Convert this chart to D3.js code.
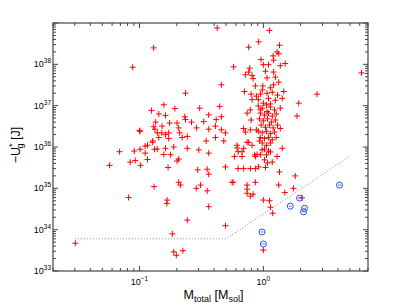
<!DOCTYPE html>
<html>
<head>
<meta charset="utf-8">
<script src="https://cdn.jsdelivr.net/npm/d3@7"></script>
<style>
body { margin: 0; background: #fff; }
text { font-family: "Liberation Sans", Arial, sans-serif; }
</style>
</head>
<body>
<div id="chart-area"></div>
<script>
// red crosses: total mass [M_sol] and -U*_g [J]
const crossMass = [
 0.424, 0.130, 0.088, 0.575, 0.458, 0.235, 0.157, 0.125, 0.193, 0.306,
 0.444, 0.143, 0.162, 0.232, 0.362, 0.135, 0.175, 0.201, 0.235, 0.263,
 0.330, 0.416, 0.458, 0.152, 0.207, 0.288, 0.410, 0.100, 0.133, 0.172,
 0.362, 0.458, 0.139, 0.162, 0.211, 0.221, 0.243, 0.494, 0.128, 0.172,
 0.143, 0.345, 0.410, 0.479, 0.139, 0.162, 0.189, 0.243, 0.157, 0.178,
 0.301, 0.362, 0.207, 0.201, 0.170, 0.295, 0.352, 0.362, 0.494, 0.207,
 0.214, 0.287, 0.311, 0.352, 0.559, 0.167, 0.166, 0.362, 0.243, 0.494,
 0.184, 0.189, 0.198, 0.224, 0.625, 0.673, 0.614, 0.694, 0.739, 0.811,
 0.625, 0.694, 0.785, 0.862, 0.739, 0.739, 0.785, 0.826, 0.862, 0.851,
 0.889, 0.976, 0.0573, 0.069, 0.0841, 0.0906, 0.0923, 0.102, 0.101, 0.101,
 0.111, 0.116, 0.111, 0.116, 0.127, 0.132, 0.151, 0.130, 0.0815, 0.131,
 0.0303, 0.785, 0.739, 1.37, 1.87, 0.796, 0.694, 0.716, 0.785, 0.878,
 1.37, 0.614, 0.584, 0.673, 0.761, 0.862, 0.946, 1.29, 1.42, 0.916,
 1.04, 1.35, 1.81, 0.570, 1.33, 1.75, 1.49, 1.00, 1.12, 1.14,
 1.19, 2.05, 1.00, 0.739, 1.12, 0.916, 0.761, 1.35, 1.29, 1.33,
 1.20, 0.958, 1.21, 1.10, 1.00, 0.776, 0.761, 0.716, 0.811, 0.826,
 1.37, 1.50, 1.04, 1.21, 1.25, 1.07, 0.862, 0.99, 1.21, 1.33,
 0.703, 0.796, 0.811, 0.946, 1.07, 1.46, 1.42, 1.93, 1.00, 1.14,
 1.25, 0.946, 1.07, 2.71, 6.2,
 0.91, 0.98, 1.06, 1.14, 1.23, 0.946, 1.02, 1.10, 1.18, 1.27,
 0.93, 1.00, 1.08, 1.16, 1.25, 0.96, 1.04, 1.12, 1.20, 0.91,
 0.98, 1.06, 1.14, 1.23, 0.946, 1.02, 1.10, 1.18, 0.98, 1.06,
 1.14, 1.02, 1.10, 0.93, 1.27, 1.30, 0.878, 1.10, 1.18, 1.30,
 0.91, 0.98, 1.14, 1.06, 1.14, 1.02, 1.18, 1.08
]
const crossEnergy = [
 7.6e38, 2.5e38, 8.5e37, 8.7e37, 3.2e37, 2.0e37, 1.05e37, 7.6e36, 8.5e36, 8.7e36,
 9.6e36, 6.3e36, 5.8e36, 5.4e36, 6.0e36, 4.0e36, 3.8e36, 3.8e36, 4.6e36, 4.0e36,
 4.1e36, 4.6e36, 5.4e36, 3.2e36, 2.9e36, 2.9e36, 3.2e36, 2.5e36, 2.7e36, 2.2e36,
 2.7e36, 2.6e36, 2.2e36, 2.0e36, 2.2e36, 1.7e36, 1.8e36, 2.2e36, 1.4e36, 1.6e36,
 1.7e36, 1.4e36, 1.7e36, 1.4e36, 8.9e35, 9.3e35, 1.0e36, 9.3e35, 6.6e35, 6.5e35,
 8.5e35, 7.1e35, 5.1e35, 4.6e35, 3.2e35, 2.8e35, 2.9e35, 2.2e35, 3.3e35, 1.4e35,
 1.2e35, 1.0e35, 1.2e35, 8.7e34, 1.4e35, 5.2e34, 4.3e34, 3.6e34, 1.7e34, 1.25e34,
 7.9e33, 2.9e33, 2.4e33, 3.1e33, 7.7e35, 5.9e35, 9.5e35, 9.3e35, 1.3e36, 1.1e36,
 3.0e35, 3.0e35, 3.0e35, 3.0e35, 1.2e35, 9.5e34, 6.5e34, 7.2e34, 1.4e35, 6.5e35,
 6.6e35, 8.5e35, 3.6e35, 7.7e35, 4.3e35, 8.0e35, 4.7e35, 3.6e35, 2.4e36, 8.8e35,
 1.05e36, 1.1e36, 7.1e35, 5.0e35, 1.3e36, 8.8e35, 2.2e36, 3.1e36, 6.0e34, 1.1e35,
 4.7e33, 7.9e36, 6.6e36, 8.7e36, 5.6e36, 4.5e36, 2.8e36, 2.3e36, 2.6e36, 2.6e36,
 2.8e36, 1.1e36, 5.9e35, 7.7e35, 1.3e36, 5.9e35, 6.5e35, 5.9e35, 9.3e35, 3.3e35,
 3.2e35, 2.5e35, 2.0e35, 1.4e35, 1.2e35, 1.0e35, 7.9e34, 5.2e34, 5.0e34, 3.5e34,
 2.5e34, 5.9e34, 3.2e33, 7.6e34, 6.6e38, 3.5e38, 2.6e38, 2.9e38, 2.0e38, 1.8e38,
 1.6e38, 1.3e38, 1.26e38, 9.8e37, 9.8e37, 8.1e37, 6.5e37, 5.6e37, 5.4e37, 4.5e37,
 9.3e37, 1.05e38, 6.8e37, 6.5e37, 4.9e37, 4.7e37, 3.0e37, 3.0e37, 3.2e37, 3.7e37,
 2.2e37, 1.9e37, 1.4e37, 1.9e37, 2.0e37, 2.2e37, 1.5e37, 1.15e37, 1.15e37, 1.1e37,
 1.35e37, 7.9e36, 7.2e36, 1.9e37, 6.2e37,
 9.8e36, 8.7e36, 1.04e37, 9.3e36, 7.9e36, 6.6e36, 5.9e36, 6.6e36, 5.6e36, 6.3e36,
 4.8e36, 4.3e36, 4.8e36, 4.0e36, 4.5e36, 3.4e36, 3.0e36, 3.4e36, 2.9e36, 2.4e36,
 2.2e36, 2.4e36, 2.1e36, 2.3e36, 1.7e36, 1.6e36, 1.7e36, 1.5e36, 1.25e36, 1.1e36,
 1.25e36, 8.9e35, 8.0e35, 1.4e36, 1.7e36, 3.4e36, 1.7e37, 1.5e37, 2.1e37, 1.8e37,
 1.4e37, 2.4e37, 2.7e37, 6.4e35, 7.6e35, 4.9e35, 4.3e35, 4.1e35
]

// blue circles
const circleMass = [4.12, 1.96, 1.65, 2.15, 2.11, 0.976, 1.00]
const circleEnergy = [1.2e35, 5.8e34, 3.7e34, 3.3e34, 2.7e34, 8.8e33, 4.5e33]

// dotted limit line
const limitMass = [0.03, 0.5, 5.0]
const limitEnergy = [6e33, 6e33, 6e35]

// axis ticks
const xMajor = [0.1, 1]
const xLabels = ["\u22121", "0"]
const yMajor = [1e33, 1e34, 1e35, 1e36, 1e37, 1e38, 1e39]
const yLabels = ["33", "34", "35", "36", "37", "38", ""]

const MARGIN = { LEFT: 53, RIGHT: 39, TOP: 23, BOTTOM: 35 }
const WIDTH = 407 - MARGIN.LEFT - MARGIN.RIGHT
const HEIGHT = 306 - MARGIN.TOP - MARGIN.BOTTOM

const svg = d3.select("#chart-area").append("svg")
  .attr("width", 407)
  .attr("height", 306)

const g = svg.append("g")
  .attr("transform", `translate(${MARGIN.LEFT}, ${MARGIN.TOP})`)

const x = d3.scaleLog().domain([0.02, 7]).range([0, WIDTH])
const y = d3.scaleLog().domain([1e33, 1e39]).range([HEIGHT, 0])

// minor ticks from the scales
const xMinor = x.ticks(20).filter(v => !xMajor.includes(v))
const yMinor = y.ticks(60).filter(v => !yMajor.some(m => Math.abs(m - v) / m < 1e-6))

const axisColor = "#444"

// tick marks on all four sides, pointing inwards
function tickLines(vals, len) {
  vals.forEach(v => {
    const px = x(v)
    g.append("line").attr("x1", px).attr("x2", px).attr("y1", HEIGHT).attr("y2", HEIGHT - len)
      .attr("stroke", axisColor)
    g.append("line").attr("x1", px).attr("x2", px).attr("y1", 0).attr("y2", len)
      .attr("stroke", axisColor)
  })
}
function tickLinesY(vals, len) {
  vals.forEach(v => {
    const py = y(v)
    g.append("line").attr("y1", py).attr("y2", py).attr("x1", 0).attr("x2", len)
      .attr("stroke", axisColor)
    g.append("line").attr("y1", py).attr("y2", py).attr("x1", WIDTH).attr("x2", WIDTH - len)
      .attr("stroke", axisColor)
  })
}
tickLines(xMajor, 5)
tickLines(xMinor, 3)
tickLinesY(yMajor, 5)
tickLinesY(yMinor, 3)

// limit line
const line = d3.line().x(d => x(d[0])).y(d => y(d[1]))
g.append("path")
  .datum(limitMass.map((m, i) => [m, limitEnergy[i]]))
  .attr("d", line)
  .attr("fill", "none")
  .attr("stroke", "#8a8a8a")
  .attr("stroke-width", 1)
  .attr("stroke-dasharray", "1,2")

// red crosses
const crosses = crossMass.map((m, i) => ({ m: m, u: crossEnergy[i] }))
g.selectAll(".cross").data(crosses).enter().append("path")
  .attr("class", "cross")
  .attr("transform", d => `translate(${x(d.m)}, ${y(d.u)})`)
  .attr("d", "M-3,0H3M0,-3V3")
  .attr("stroke", "#ff0000")
  .attr("stroke-width", 1)

// blue circles
const circles = circleMass.map((m, i) => ({ m: m, u: circleEnergy[i] }))
const cg = g.selectAll(".circ").data(circles).enter().append("g")
  .attr("class", "circ")
  .attr("transform", d => `translate(${x(d.m)}, ${y(d.u)})`)
cg.append("circle").attr("r", 3).attr("fill", "none").attr("stroke", "#2a4cff").attr("stroke-width", 1)
cg.append("line").attr("x1", -1.5).attr("x2", 1.5).attr("stroke", "#2a4cff").attr("stroke-width", 0.8)

// box
g.append("rect")
  .attr("width", WIDTH).attr("height", HEIGHT)
  .attr("fill", "none").attr("stroke", axisColor).attr("stroke-width", 1.2)

// tick labels
xMajor.forEach((v, i) => {
  const t = g.append("text")
    .attr("x", x(v)).attr("y", HEIGHT + 14)
    .attr("text-anchor", "middle")
    .attr("font-size", "9px")
  t.append("tspan").text("10")
  t.append("tspan").attr("dy", -4).attr("font-size", "6.5px").text(xLabels[i])
})
yMajor.forEach((v, i) => {
  if (!yLabels[i]) return
  const t = g.append("text")
    .attr("x", -2).attr("y", y(v) + 3)
    .attr("text-anchor", "end")
    .attr("font-size", "9px")
  t.append("tspan").text("10")
  t.append("tspan").attr("dy", -4).attr("font-size", "6.5px").text(yLabels[i])
})

// X label
const xl = g.append("text")
  .attr("x", WIDTH / 2 + 3).attr("y", HEIGHT + 28)
  .attr("text-anchor", "middle")
  .attr("font-size", "12.5px")
xl.append("tspan").text("M")
xl.append("tspan").attr("dy", 3).attr("font-size", "9px").text("total")
xl.append("tspan").attr("dy", -3).text(" [M")
xl.append("tspan").attr("dy", 3).attr("font-size", "9px").text("sol")
xl.append("tspan").attr("dy", -3).text("]")

// Y label
const yl = g.append("text")
  .attr("transform", "rotate(-90)")
  .attr("x", -HEIGHT / 2 + 2).attr("y", -33)
  .attr("text-anchor", "middle")
  .attr("font-size", "12.5px")
yl.append("tspan").text("\u2212U")
yl.append("tspan").attr("dy", -5).attr("font-size", "9px").text("*")
yl.append("tspan").attr("dx", -5).attr("dy", 8).attr("font-size", "9px").text("g")
yl.append("tspan").attr("dy", -3).text(" [J]")
</script>
</body>
</html>
